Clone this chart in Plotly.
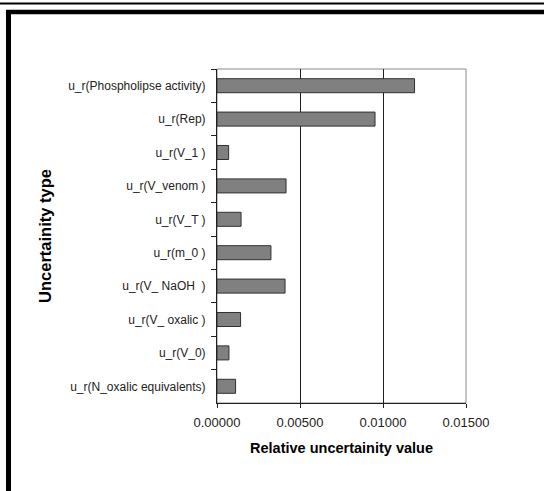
import plotly.graph_objects as go

categories = [
    "u_r(Phospholipse activity)",
    "u_r(Rep)",
    "u_r(V_1 )",
    "u_r(V_venom )",
    "u_r(V_T )",
    "u_r(m_0 )",
    "u_r(V_ NaOH  )",
    "u_r(V_ oxalic )",
    "u_r(V_0)",
    "u_r(N_oxalic equivalents)",
]
values = [0.0119, 0.00952, 0.0007, 0.00416, 0.00145, 0.00325, 0.0041, 0.00142, 0.00072, 0.00112]
x_ticks = [0.0, 0.005, 0.01, 0.015]
x_tick_labels = ["0.00000", "0.00500", "0.01000", "0.01500"]

W, H = 544, 491
L, R, T, B = 217, 78, 69, 88
PW, PH = W - L - R, H - T - B


def px(x):
    return (x - L) / PW


def py(y):
    return (H - B - y) / PH


fig = go.Figure(
    go.Bar(
        y=categories,
        x=values,
        orientation="h",
        marker=dict(color="#808080", line=dict(color="#303030", width=1)),
    )
)

font_family = "Liberation Sans, Arial, sans-serif"

fig.update_layout(
    width=W,
    height=H,
    margin=dict(l=L, r=R, t=T, b=B, pad=0),
    paper_bgcolor="white",
    plot_bgcolor="white",
    bargap=0.58,
    showlegend=False,
    font=dict(family=font_family, size=12, color="#222222"),
    xaxis=dict(
        range=[0, 0.015],
        tickvals=x_ticks,
        ticktext=x_tick_labels,
        showgrid=True,
        gridcolor="#202020",
        gridwidth=1,
        zeroline=False,
        showline=True,
        linecolor="#202020",
        linewidth=1,
        ticks="outside",
        ticklen=4,
        tickcolor="#202020",
        ticklabelstandoff=3,
        tickfont=dict(size=13, color="#222222"),
        title=dict(
            text="<b>Relative uncertainity value</b>",
            font=dict(size=14.5, color="#000000"),
            standoff=14,
        ),
    ),
    yaxis=dict(
        type="category",
        categoryorder="array",
        categoryarray=categories,
        range=[len(categories) - 0.5, -0.5],
        showgrid=False,
        zeroline=False,
        showline=True,
        linecolor="#202020",
        linewidth=1,
        ticks="outside",
        tickson="boundaries",
        ticklen=5,
        tickcolor="#202020",
        ticklabelstandoff=8,
        tickfont=dict(size=12, color="#222222"),
        title=dict(
            text="<b>Uncertainity type</b>",
            font=dict(size=16.5, color="#000000"),
            standoff=12,
        ),
    ),
    shapes=[
        # plot area border (gray top / right)
        dict(type="rect", xref="paper", yref="paper", x0=0, x1=1, y0=0, y1=1,
             line=dict(color="#8a8a8a", width=1), layer="below"),
        # top page line
        dict(type="line", xref="paper", yref="paper", x0=px(0), x1=px(W), y0=py(3.5), y1=py(3.5),
             line=dict(color="black", width=2)),
        # frame top
        dict(type="line", xref="paper", yref="paper", x0=px(6), x1=px(W), y0=py(12), y1=py(12),
             line=dict(color="black", width=4.5)),
        # frame left
        dict(type="line", xref="paper", yref="paper", x0=px(8.5), x1=px(8.5), y0=py(10), y1=py(H),
             line=dict(color="black", width=5)),
    ],
)

fig.write_html(
    "out.html",
    config={"displayModeBar": False},
    post_script="document.body.style.margin='0';document.body.style.overflow='hidden';",
)
